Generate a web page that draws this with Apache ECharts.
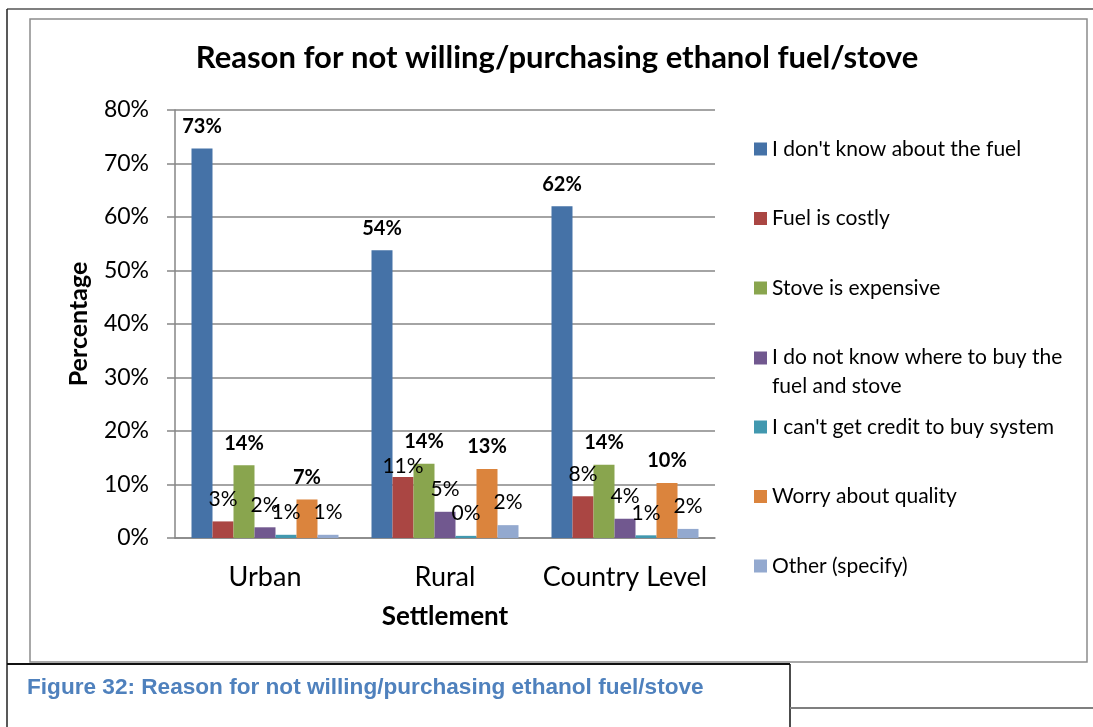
<!DOCTYPE html>
<html><head><meta charset="utf-8">
<script src="https://cdn.jsdelivr.net/npm/echarts@6/dist/echarts.min.js"></script>
<style>html,body{margin:0;padding:0;background:#fff}#c{width:1093px;height:727px}</style>
</head><body><div id="c"></div>
<script>
const categories = ['Urban', 'Rural', 'Country Level'];
const seriesNames = [
  "I don't know about the fuel",
  "Fuel is costly",
  "Stove is expensive",
  "I do not know where to buy the fuel and stove",
  "I can't get credit to buy system",
  "Worry about quality",
  "Other (specify)"
];
const dontKnowFuel   = [72.8, 53.8, 62.0];
const fuelCostly     = [3.1, 11.4, 7.8];
const stoveExpensive = [13.6, 13.9, 13.7];
const dontKnowWhere  = [2.0, 4.9, 3.6];
const noCredit       = [0.6, 0.4, 0.5];
const worryQuality   = [7.2, 12.9, 10.3];
const otherSpecify   = [0.6, 2.4, 1.7];
const seriesValues = [dontKnowFuel, fuelCostly, stoveExpensive, dontKnowWhere, noCredit, worryQuality, otherSpecify];
const boldLabel = [true, false, true, false, false, true, false];
const colors = ['#4572A7', '#AA4643', '#89A54E', '#71588F', '#4198AF', '#DB843D', '#93A9CF'];
const yMin = 0, yMax = 80, yInterval = 10;

const titleText = 'Reason for not willing/purchasing ethanol fuel/stove';
const captionText = 'Figure 32: Reason for not willing/purchasing ethanol fuel/stove';
const FONT = 'Lato';
const titleSize = 31;
const ctx = document.createElement('canvas').getContext('2d');
ctx.font = 'bold ' + titleSize + 'px ' + FONT;
const titleW = ctx.measureText(titleText).width;

const LH = 28;
const legendText = {
  fontFamily: FONT, fontSize: 21, color: '#000', lineHeight: LH,
  rich: {
    a: {fontFamily: FONT, fontSize: 21, color: '#000', lineHeight: LH},
    b: {fontFamily: FONT, fontSize: 21, color: '#000', lineHeight: 1, verticalAlign: 'top', padding: [4, 0, 0, 0]}
  }
};
const legendFormatter = function (name) {
  if (name === seriesNames[3]) {
    return '{a|I do not know where to buy the}\n{b|fuel and stove}';
  }
  return name;
};
const legendBase = {
  orient: 'vertical', left: 754, itemWidth: 13, itemHeight: 13, itemGap: 41.5,
  icon: 'rect', padding: 0, formatter: legendFormatter, textStyle: legendText
};

const chart = echarts.init(document.getElementById('c'), null, {renderer: 'canvas'});
chart.setOption({
  backgroundColor: '#fff',
  animation: false,
  color: colors,
  title: {
    text: titleText,
    left: 557 - titleW / 2,
    top: 42,
    padding: 0,
    textStyle: {fontFamily: FONT, fontWeight: 'bold', fontSize: titleSize, color: '#000'}
  },
  legend: [
    Object.assign({}, legendBase, {top: 135, data: seriesNames.slice(0, 4)}),
    Object.assign({}, legendBase, {top: 413, data: seriesNames.slice(4)})
  ],
  grid: {left: 175, right: 378, top: 110, bottom: 189, containLabel: false},
  xAxis: {
    type: 'category',
    data: categories,
    name: 'Settlement',
    nameLocation: 'middle',
    nameGap: 66,
    nameTextStyle: {fontFamily: FONT, fontWeight: 'bold', fontSize: 26, color: '#000'},
    axisLine: {lineStyle: {color: '#868686', width: 1.5}},
    axisTick: {show: false},
    axisLabel: {fontFamily: FONT, fontSize: 27, color: '#000', margin: 26, interval: 0, hideOverlap: false}
  },
  yAxis: {
    type: 'value',
    min: yMin, max: yMax, interval: yInterval,
    name: 'Percentage',
    nameLocation: 'middle',
    nameGap: 84,
    nameRotate: 90,
    nameTextStyle: {fontFamily: FONT, fontWeight: 'bold', fontSize: 25, color: '#000'},
    axisLine: {show: true, lineStyle: {color: '#868686', width: 1.5}},
    axisTick: {show: true, length: 8, lineStyle: {color: '#868686', width: 1.5}},
    axisLabel: {fontFamily: FONT, fontSize: 23, color: '#000', margin: 26, formatter: '{value}%'},
    splitLine: {lineStyle: {color: '#868686', width: 1.5}}
  },
  series: seriesNames.map((n, i) => ({
    type: 'bar',
    name: n,
    data: seriesValues[i].map((v, j) => (i === 1 && j === 1) ? {value: v, label: {distance: 0}} : v),
    barWidth: 21,
    barGap: '0%',
    itemStyle: {color: colors[i]},
    label: {
      show: true,
      position: 'top',
      distance: 12,
      fontFamily: FONT,
      fontSize: boldLabel[i] ? 20 : 21,
      fontWeight: boldLabel[i] ? 'bold' : 'normal',
      color: '#000',
      formatter: p => Math.round(p.value) + '%'
    }
  })),
  graphic: [
    {type: 'line', shape: {x1: 7, y1: 9, x2: 1093, y2: 9}, style: {stroke: '#7f7f7f', lineWidth: 2}, silent: true},
    {type: 'line', shape: {x1: 7, y1: 9, x2: 7, y2: 727}, style: {stroke: '#222', lineWidth: 1.5}, silent: true},
    {type: 'rect', shape: {x: 30, y: 19, width: 1057, height: 643}, style: {fill: 'none', stroke: '#8c8c8c', lineWidth: 1.5}, silent: true},
    {type: 'line', shape: {x1: 7, y1: 664, x2: 790, y2: 664}, style: {stroke: '#111', lineWidth: 2}, silent: true},
    {type: 'line', shape: {x1: 790, y1: 664, x2: 790, y2: 727}, style: {stroke: '#111', lineWidth: 1.5}, silent: true},
    {type: 'line', shape: {x1: 790, y1: 708, x2: 1093, y2: 708}, style: {stroke: '#7f7f7f', lineWidth: 2}, silent: true},
    {type: 'text', left: 27, top: 676, silent: true,
     style: {text: captionText, fill: '#4F81BD', font: 'bold 22.6px "Liberation Sans", Arial, sans-serif'}}
  ]
});
</script>
</body></html>
